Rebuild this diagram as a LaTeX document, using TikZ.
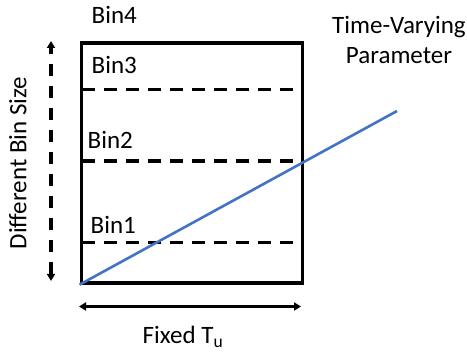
\documentclass[tikz,border=0pt]{standalone}
\usepackage{fontspec}
\setmainfont{Carlito}
\usetikzlibrary{arrows.meta}
\begin{document}
\begin{tikzpicture}[x=1pt,y=-1pt,
  lbl/.style={inner sep=0pt,font=\fontsize{25}{30}\selectfont},
  binline/.style={line width=3.2pt,dash pattern=on 12.5pt off 9.5pt},
  frame/.style={line width=3.2pt},
  tips/.style={{Triangle[length=7pt,width=8pt]}-{Triangle[length=7pt,width=8pt]}}]
\useasboundingbox (0,0) rectangle (467,353);
% bin box
\node[frame,draw,minimum width=221pt,minimum height=240pt,inner sep=0pt,anchor=north west] (box) at (79.5,41.5) {};
% bin boundaries
\coordinate (b3l) at (82,89.5);  \coordinate (b3r) at (297,89.5);
\coordinate (b2l) at (82,161);   \coordinate (b2r) at (297,161);
\coordinate (b1l) at (82,242.5); \coordinate (b1r) at (297,242.5);
\draw[binline] (b3l) -- (b3r);
\draw[binline] (b2l) -- (b2r);
\draw[binline] (b1l) -- (b1r);
% bin labels
\node[lbl,anchor=base west] (bin4) at (91.5,23.5) {Bin4};
\node[lbl,anchor=base west] (bin3) at (91.5,74) {Bin3};
\node[lbl,anchor=base west] (bin2) at (87.5,148.5) {Bin2};
\node[lbl,anchor=base west] (bin1) at (90.5,233.5) {Bin1};
% time-varying parameter
\coordinate (p0) at (box.south west);
\coordinate (p1) at (397,111);
\draw[line width=2.6pt,color={rgb,255:red,68;green,114;blue,196}] (p0) -- (p1);
\node[lbl,align=center,anchor=base] (tvp) at (399,63.5) {Time-Varying\\Parameter};
% size axis
\coordinate (vtop) at (51,41);
\coordinate (vbot) at (51,281);
\draw[binline,dash phase=6pt,tips] (vtop) -- (vbot);
\node[lbl,rotate=90,anchor=base] (size) at (26.5,163) {Different Bin Size};
% fixed width axis
\coordinate (hl) at (79,306.5);
\coordinate (hr) at (301,306.5);
\draw[line width=2.8pt,tips] (hl) -- (hr);
\node[lbl,anchor=base west] (fixed) at (142.5,343.5) {Fixed T\textsubscript{u}};
\end{tikzpicture}
\end{document}
